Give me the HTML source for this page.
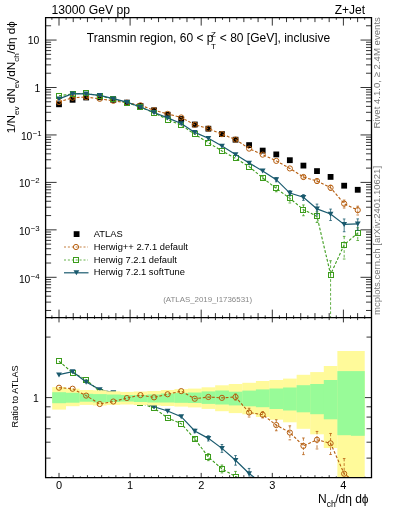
<!DOCTYPE html>
<html><head><meta charset="utf-8"><style>
html,body{margin:0;padding:0;background:#fff;width:393px;height:512px;overflow:hidden}
svg{position:absolute;left:0;top:0;display:block;will-change:transform}
text{font-family:"Liberation Sans",sans-serif}
</style></head><body>
<svg width="393" height="512" viewBox="0 0 393 512">
<defs><clipPath id="cm"><rect x="45.6" y="17.6" width="325.9" height="300"/></clipPath><clipPath id="cr"><rect x="45.6" y="317.6" width="325.9" height="160.1"/></clipPath></defs>
<path d="M45.6,310.47h5.5M371.5,310.47h-5.5M45.6,302.11h5.5M371.5,302.11h-5.5M45.6,296.18h5.5M371.5,296.18h-5.5M45.6,291.58h5.5M371.5,291.58h-5.5M45.6,287.83h5.5M371.5,287.83h-5.5M45.6,284.65h5.5M371.5,284.65h-5.5M45.6,281.9h5.5M371.5,281.9h-5.5M45.6,279.47h5.5M371.5,279.47h-5.5M45.6,277.3h11M371.5,277.3h-11M45.6,263.02h5.5M371.5,263.02h-5.5M45.6,254.66h5.5M371.5,254.66h-5.5M45.6,248.73h5.5M371.5,248.73h-5.5M45.6,244.13h5.5M371.5,244.13h-5.5M45.6,240.38h5.5M371.5,240.38h-5.5M45.6,237.2h5.5M371.5,237.2h-5.5M45.6,234.45h5.5M371.5,234.45h-5.5M45.6,232.02h5.5M371.5,232.02h-5.5M45.6,229.85h11M371.5,229.85h-11M45.6,215.57h5.5M371.5,215.57h-5.5M45.6,207.21h5.5M371.5,207.21h-5.5M45.6,201.28h5.5M371.5,201.28h-5.5M45.6,196.68h5.5M371.5,196.68h-5.5M45.6,192.93h5.5M371.5,192.93h-5.5M45.6,189.75h5.5M371.5,189.75h-5.5M45.6,187h5.5M371.5,187h-5.5M45.6,184.57h5.5M371.5,184.57h-5.5M45.6,182.4h11M371.5,182.4h-11M45.6,168.12h5.5M371.5,168.12h-5.5M45.6,159.76h5.5M371.5,159.76h-5.5M45.6,153.83h5.5M371.5,153.83h-5.5M45.6,149.23h5.5M371.5,149.23h-5.5M45.6,145.48h5.5M371.5,145.48h-5.5M45.6,142.3h5.5M371.5,142.3h-5.5M45.6,139.55h5.5M371.5,139.55h-5.5M45.6,137.12h5.5M371.5,137.12h-5.5M45.6,134.95h11M371.5,134.95h-11M45.6,120.67h5.5M371.5,120.67h-5.5M45.6,112.31h5.5M371.5,112.31h-5.5M45.6,106.38h5.5M371.5,106.38h-5.5M45.6,101.78h5.5M371.5,101.78h-5.5M45.6,98.03h5.5M371.5,98.03h-5.5M45.6,94.85h5.5M371.5,94.85h-5.5M45.6,92.1h5.5M371.5,92.1h-5.5M45.6,89.67h5.5M371.5,89.67h-5.5M45.6,87.5h11M371.5,87.5h-11M45.6,73.22h5.5M371.5,73.22h-5.5M45.6,64.86h5.5M371.5,64.86h-5.5M45.6,58.93h5.5M371.5,58.93h-5.5M45.6,54.33h5.5M371.5,54.33h-5.5M45.6,50.58h5.5M371.5,50.58h-5.5M45.6,47.4h5.5M371.5,47.4h-5.5M45.6,44.65h5.5M371.5,44.65h-5.5M45.6,42.22h5.5M371.5,42.22h-5.5M45.6,40.05h11M371.5,40.05h-11M45.6,25.77h5.5M371.5,25.77h-5.5M51.89,17.6v2.2M51.89,317.6v-2.2M51.89,317.6v1.3M51.89,477.7v-1.3M59,17.6v8M59,317.6v-8M59,317.6v4.8M59,477.7v-4.8M66.11,17.6v2.2M66.11,317.6v-2.2M66.11,317.6v1.3M66.11,477.7v-1.3M73.22,17.6v4.5M73.22,317.6v-4.5M73.22,317.6v2.5M73.22,477.7v-2.5M80.33,17.6v2.2M80.33,317.6v-2.2M80.33,317.6v1.3M80.33,477.7v-1.3M87.44,17.6v4.5M87.44,317.6v-4.5M87.44,317.6v2.5M87.44,477.7v-2.5M94.55,17.6v2.2M94.55,317.6v-2.2M94.55,317.6v1.3M94.55,477.7v-1.3M101.66,17.6v4.5M101.66,317.6v-4.5M101.66,317.6v2.5M101.66,477.7v-2.5M108.77,17.6v2.2M108.77,317.6v-2.2M108.77,317.6v1.3M108.77,477.7v-1.3M115.88,17.6v4.5M115.88,317.6v-4.5M115.88,317.6v2.5M115.88,477.7v-2.5M122.99,17.6v2.2M122.99,317.6v-2.2M122.99,317.6v1.3M122.99,477.7v-1.3M130.1,17.6v8M130.1,317.6v-8M130.1,317.6v4.8M130.1,477.7v-4.8M137.21,17.6v2.2M137.21,317.6v-2.2M137.21,317.6v1.3M137.21,477.7v-1.3M144.32,17.6v4.5M144.32,317.6v-4.5M144.32,317.6v2.5M144.32,477.7v-2.5M151.43,17.6v2.2M151.43,317.6v-2.2M151.43,317.6v1.3M151.43,477.7v-1.3M158.54,17.6v4.5M158.54,317.6v-4.5M158.54,317.6v2.5M158.54,477.7v-2.5M165.65,17.6v2.2M165.65,317.6v-2.2M165.65,317.6v1.3M165.65,477.7v-1.3M172.76,17.6v4.5M172.76,317.6v-4.5M172.76,317.6v2.5M172.76,477.7v-2.5M179.87,17.6v2.2M179.87,317.6v-2.2M179.87,317.6v1.3M179.87,477.7v-1.3M186.98,17.6v4.5M186.98,317.6v-4.5M186.98,317.6v2.5M186.98,477.7v-2.5M194.09,17.6v2.2M194.09,317.6v-2.2M194.09,317.6v1.3M194.09,477.7v-1.3M201.2,17.6v8M201.2,317.6v-8M201.2,317.6v4.8M201.2,477.7v-4.8M208.31,17.6v2.2M208.31,317.6v-2.2M208.31,317.6v1.3M208.31,477.7v-1.3M215.42,17.6v4.5M215.42,317.6v-4.5M215.42,317.6v2.5M215.42,477.7v-2.5M222.53,17.6v2.2M222.53,317.6v-2.2M222.53,317.6v1.3M222.53,477.7v-1.3M229.64,17.6v4.5M229.64,317.6v-4.5M229.64,317.6v2.5M229.64,477.7v-2.5M236.75,17.6v2.2M236.75,317.6v-2.2M236.75,317.6v1.3M236.75,477.7v-1.3M243.86,17.6v4.5M243.86,317.6v-4.5M243.86,317.6v2.5M243.86,477.7v-2.5M250.97,17.6v2.2M250.97,317.6v-2.2M250.97,317.6v1.3M250.97,477.7v-1.3M258.08,17.6v4.5M258.08,317.6v-4.5M258.08,317.6v2.5M258.08,477.7v-2.5M265.19,17.6v2.2M265.19,317.6v-2.2M265.19,317.6v1.3M265.19,477.7v-1.3M272.3,17.6v8M272.3,317.6v-8M272.3,317.6v4.8M272.3,477.7v-4.8M279.41,17.6v2.2M279.41,317.6v-2.2M279.41,317.6v1.3M279.41,477.7v-1.3M286.52,17.6v4.5M286.52,317.6v-4.5M286.52,317.6v2.5M286.52,477.7v-2.5M293.63,17.6v2.2M293.63,317.6v-2.2M293.63,317.6v1.3M293.63,477.7v-1.3M300.74,17.6v4.5M300.74,317.6v-4.5M300.74,317.6v2.5M300.74,477.7v-2.5M307.85,17.6v2.2M307.85,317.6v-2.2M307.85,317.6v1.3M307.85,477.7v-1.3M314.96,17.6v4.5M314.96,317.6v-4.5M314.96,317.6v2.5M314.96,477.7v-2.5M322.07,17.6v2.2M322.07,317.6v-2.2M322.07,317.6v1.3M322.07,477.7v-1.3M329.18,17.6v4.5M329.18,317.6v-4.5M329.18,317.6v2.5M329.18,477.7v-2.5M336.29,17.6v2.2M336.29,317.6v-2.2M336.29,317.6v1.3M336.29,477.7v-1.3M343.4,17.6v8M343.4,317.6v-8M343.4,317.6v4.8M343.4,477.7v-4.8M350.51,17.6v2.2M350.51,317.6v-2.2M350.51,317.6v1.3M350.51,477.7v-1.3M357.62,17.6v4.5M357.62,317.6v-4.5M357.62,317.6v2.5M357.62,477.7v-2.5M364.73,17.6v2.2M364.73,317.6v-2.2M364.73,317.6v1.3M364.73,477.7v-1.3M45.6,337.09h5M371.5,337.09h-5M45.6,397.6h11M371.5,397.6h-11M45.6,406.8h5M371.5,406.8h-5M45.6,417.08h5M371.5,417.08h-5M45.6,428.74h5M371.5,428.74h-5M45.6,442.19h5M371.5,442.19h-5M45.6,458.11h5M371.5,458.11h-5" stroke="#000" stroke-width="0.8" fill="none"/>
<g clip-path="url(#cr)"><polyline points="59,361.22 72.58,372.77 86.16,379.53 99.74,391.69 113.32,394.18 126.9,397.6 140.47,403 154.05,408.07 167.63,417.96 181.21,423.65 194.79,438.91 208.37,457.07 221.95,468.87 235.53,476.5 249.11,488.74 262.69,513.53 276.27,541.66 289.84,559.22 303.42,584.15 317,589.49 330.58,811.06 344.16,647.67 357.74,581.24" fill="none" stroke="#3c9c1c" stroke-width="1.1" stroke-dasharray="2.8,1.8"/><path d="M194.79,437.18V440.67M193.49,437.18H196.09M193.49,440.67H196.09M208.37,453.64V460.63M207.07,453.64H209.67M207.07,460.63H209.67M221.95,465.03V472.89M220.65,465.03H223.25M220.65,472.89H223.25M235.53,471.42V481.9M234.23,471.42H236.83M234.23,481.9H236.83" stroke="#3c9c1c" stroke-width="0.8" fill="none" stroke-dasharray="2.8,1.8"/><rect x="56.5" y="358.5" width="5" height="5" fill="none" stroke="#3c9c1c" stroke-width="1"/><rect x="70.5" y="370.5" width="5" height="5" fill="none" stroke="#3c9c1c" stroke-width="1"/><rect x="83.5" y="377.5" width="5" height="5" fill="none" stroke="#3c9c1c" stroke-width="1"/><rect x="97.5" y="389.5" width="5" height="5" fill="none" stroke="#3c9c1c" stroke-width="1"/><rect x="110.5" y="391.5" width="5" height="5" fill="none" stroke="#3c9c1c" stroke-width="1"/><rect x="124.5" y="395.5" width="5" height="5" fill="none" stroke="#3c9c1c" stroke-width="1"/><rect x="137.5" y="400.5" width="5" height="5" fill="none" stroke="#3c9c1c" stroke-width="1"/><rect x="151.5" y="405.5" width="5" height="5" fill="none" stroke="#3c9c1c" stroke-width="1"/><rect x="165.5" y="415.5" width="5" height="5" fill="none" stroke="#3c9c1c" stroke-width="1"/><rect x="178.5" y="421.5" width="5" height="5" fill="none" stroke="#3c9c1c" stroke-width="1"/><rect x="192.5" y="436.5" width="5" height="5" fill="none" stroke="#3c9c1c" stroke-width="1"/><rect x="205.5" y="454.5" width="5" height="5" fill="none" stroke="#3c9c1c" stroke-width="1"/><rect x="219.5" y="466.5" width="5" height="5" fill="none" stroke="#3c9c1c" stroke-width="1"/><rect x="233.5" y="474.5" width="5" height="5" fill="none" stroke="#3c9c1c" stroke-width="1"/><rect x="246.5" y="486.5" width="5" height="5" fill="none" stroke="#3c9c1c" stroke-width="1"/><rect x="260.5" y="511.5" width="5" height="5" fill="none" stroke="#3c9c1c" stroke-width="1"/><rect x="273.5" y="539.5" width="5" height="5" fill="none" stroke="#3c9c1c" stroke-width="1"/><rect x="287.5" y="556.5" width="5" height="5" fill="none" stroke="#3c9c1c" stroke-width="1"/><rect x="300.5" y="581.5" width="5" height="5" fill="none" stroke="#3c9c1c" stroke-width="1"/><rect x="314.5" y="586.5" width="5" height="5" fill="none" stroke="#3c9c1c" stroke-width="1"/><rect x="328.5" y="808.5" width="5" height="5" fill="none" stroke="#3c9c1c" stroke-width="1"/><rect x="341.5" y="645.5" width="5" height="5" fill="none" stroke="#3c9c1c" stroke-width="1"/><rect x="355.5" y="578.5" width="5" height="5" fill="none" stroke="#3c9c1c" stroke-width="1"/></g>
<g clip-path="url(#cr)"><polyline points="59,374.7 72.58,371.66 86.16,381.98 99.74,389.52 113.32,392.51 126.9,395.87 140.47,402.08 154.05,406.7 167.63,410.97 181.21,416.64 194.79,431.01 208.37,438.35 221.95,448.37 235.53,460.23 249.11,473.53 262.69,483.69 276.27,504.46 289.84,536.79 303.42,531.78 317,557.57 330.58,554.89 344.16,561.48 357.74,541.66" fill="none" stroke="#1a5a6e" stroke-width="1.2"/><path d="M194.79,429.28V432.77M193.49,429.28H196.09M193.49,432.77H196.09M208.37,435.77V441.01M207.07,435.77H209.67M207.07,441.01H209.67M221.95,444.53V452.39M220.65,444.53H223.25M220.65,452.39H223.25M235.53,455.55V465.17M234.23,455.55H236.83M234.23,465.17H236.83M249.11,468.45V478.94M247.81,468.45H250.41M247.81,478.94H250.41" stroke="#1a5a6e" stroke-width="0.8" fill="none"/><path d="M56.1,372.4H61.9L59,377.4Z" fill="#1a5a6e"/><path d="M69.68,369.36H75.48L72.58,374.36Z" fill="#1a5a6e"/><path d="M83.26,379.68H89.06L86.16,384.68Z" fill="#1a5a6e"/><path d="M96.84,387.22H102.64L99.74,392.22Z" fill="#1a5a6e"/><path d="M110.42,390.21H116.22L113.32,395.21Z" fill="#1a5a6e"/><path d="M124,393.57H129.8L126.9,398.57Z" fill="#1a5a6e"/><path d="M137.57,399.78H143.37L140.47,404.78Z" fill="#1a5a6e"/><path d="M151.15,404.4H156.95L154.05,409.4Z" fill="#1a5a6e"/><path d="M164.73,408.67H170.53L167.63,413.67Z" fill="#1a5a6e"/><path d="M178.31,414.34H184.11L181.21,419.34Z" fill="#1a5a6e"/><path d="M191.89,428.71H197.69L194.79,433.71Z" fill="#1a5a6e"/><path d="M205.47,436.05H211.27L208.37,441.05Z" fill="#1a5a6e"/><path d="M219.05,446.07H224.85L221.95,451.07Z" fill="#1a5a6e"/><path d="M232.63,457.93H238.43L235.53,462.93Z" fill="#1a5a6e"/><path d="M246.21,471.23H252.01L249.11,476.23Z" fill="#1a5a6e"/><path d="M259.79,481.39H265.59L262.69,486.39Z" fill="#1a5a6e"/><path d="M273.37,502.16H279.17L276.27,507.16Z" fill="#1a5a6e"/><path d="M286.94,534.49H292.74L289.84,539.49Z" fill="#1a5a6e"/><path d="M300.52,529.48H306.32L303.42,534.48Z" fill="#1a5a6e"/><path d="M314.1,555.27H319.9L317,560.27Z" fill="#1a5a6e"/><path d="M327.68,552.59H333.48L330.58,557.59Z" fill="#1a5a6e"/><path d="M341.26,559.18H347.06L344.16,564.18Z" fill="#1a5a6e"/><path d="M354.84,539.36H360.64L357.74,544.36Z" fill="#1a5a6e"/></g>
<g clip-path="url(#cr)"><g fill="#fffa9a"><rect x="52.21" y="387.1" width="13.78" height="22.5"/><rect x="65.79" y="388.7" width="13.78" height="17.5"/><rect x="79.37" y="390" width="13.78" height="14.9"/><rect x="92.95" y="390.3" width="13.78" height="15.2"/><rect x="106.53" y="391.3" width="13.78" height="13.6"/><rect x="120.11" y="391.9" width="13.78" height="12.6"/><rect x="133.68" y="391.5" width="13.78" height="13.5"/><rect x="147.26" y="391" width="13.78" height="14.5"/><rect x="160.84" y="390" width="13.78" height="16"/><rect x="174.42" y="389.1" width="13.78" height="17.5"/><rect x="188" y="388.6" width="13.78" height="18.8"/><rect x="201.58" y="387.3" width="13.78" height="21.6"/><rect x="215.16" y="385.3" width="13.78" height="25.9"/><rect x="228.74" y="384" width="13.78" height="29.1"/><rect x="242.32" y="382.8" width="13.78" height="31.5"/><rect x="255.9" y="381" width="13.78" height="36"/><rect x="269.48" y="380" width="13.78" height="39.7"/><rect x="283.05" y="378.6" width="13.78" height="43.7"/><rect x="296.63" y="374.8" width="13.78" height="54"/><rect x="310.21" y="372.1" width="13.78" height="62.2"/><rect x="323.79" y="366" width="13.78" height="82"/><rect x="337.37" y="351" width="13.78" height="126.7"/><rect x="350.95" y="351" width="13.78" height="126.7"/></g><g fill="#98fb98"><rect x="52.21" y="392.2" width="13.78" height="11"/><rect x="65.79" y="392.8" width="13.78" height="9.9"/><rect x="79.37" y="393.8" width="13.78" height="7.9"/><rect x="92.95" y="394.1" width="13.78" height="8.3"/><rect x="106.53" y="394.5" width="13.78" height="7.5"/><rect x="120.11" y="395" width="13.78" height="6.5"/><rect x="133.68" y="395" width="13.78" height="7"/><rect x="147.26" y="394.5" width="13.78" height="8"/><rect x="160.84" y="393.5" width="13.78" height="9"/><rect x="174.42" y="392.9" width="13.78" height="9.9"/><rect x="188" y="392.5" width="13.78" height="10.5"/><rect x="201.58" y="391.4" width="13.78" height="12.5"/><rect x="215.16" y="390.5" width="13.78" height="14"/><rect x="228.74" y="391.7" width="13.78" height="13.7"/><rect x="242.32" y="390.6" width="13.78" height="15.7"/><rect x="255.9" y="389.4" width="13.78" height="17.8"/><rect x="269.48" y="388.5" width="13.78" height="20.5"/><rect x="283.05" y="387.5" width="13.78" height="23"/><rect x="296.63" y="385.2" width="13.78" height="27.1"/><rect x="310.21" y="384" width="13.78" height="30.2"/><rect x="323.79" y="380" width="13.78" height="39.3"/><rect x="337.37" y="371.1" width="13.78" height="64.1"/><rect x="350.95" y="371.1" width="13.78" height="64.7"/></g></g>
<g clip-path="url(#cr)"><polyline points="59,387.71 72.58,388.73 86.16,395.61 99.74,404.03 113.32,401.53 126.9,398.04 140.47,395.1 154.05,397.34 167.63,394.26 181.21,391.12 194.79,398.74 208.37,396.99 221.95,397.86 235.53,396.99 249.11,412.51 262.69,414.71 276.27,425.07 289.84,432.56 303.42,445.91 317,439.75 330.58,443.36 344.16,473.74 357.74,483.69" fill="none" stroke="#b55d0e" stroke-width="1.1" stroke-dasharray="2.8,1.8"/><path d="M235.53,393.99V400.1M234.23,393.99H236.83M234.23,400.1H236.83M249.11,408.25V416.99M247.81,408.25H250.41M247.81,416.99H250.41M262.69,411.62V417.91M261.39,411.62H263.99M261.39,417.91H263.99M276.27,419.74V430.75M274.97,419.74H277.57M274.97,430.75H277.57M289.84,425.84V439.84M288.54,425.84H291.14M288.54,439.84H291.14M303.42,437.98V454.62M302.12,437.98H304.72M302.12,454.62H304.72M317,431.43V448.95M315.7,431.43H318.3M315.7,448.95H318.3M330.58,433.47V454.52M329.28,433.47H331.88M329.28,454.52H331.88M344.16,458.56V492.14M342.86,458.56H345.46M342.86,492.14H345.46" stroke="#b55d0e" stroke-width="0.8" fill="none" stroke-dasharray="2.8,1.8"/><circle cx="59" cy="387.71" r="2.6" fill="none" stroke="#b55d0e" stroke-width="1"/><circle cx="72.58" cy="388.73" r="2.6" fill="none" stroke="#b55d0e" stroke-width="1"/><circle cx="86.16" cy="395.61" r="2.6" fill="none" stroke="#b55d0e" stroke-width="1"/><circle cx="99.74" cy="404.03" r="2.6" fill="none" stroke="#b55d0e" stroke-width="1"/><circle cx="113.32" cy="401.53" r="2.6" fill="none" stroke="#b55d0e" stroke-width="1"/><circle cx="126.9" cy="398.04" r="2.6" fill="none" stroke="#b55d0e" stroke-width="1"/><circle cx="140.47" cy="395.1" r="2.6" fill="none" stroke="#b55d0e" stroke-width="1"/><circle cx="154.05" cy="397.34" r="2.6" fill="none" stroke="#b55d0e" stroke-width="1"/><circle cx="167.63" cy="394.26" r="2.6" fill="none" stroke="#b55d0e" stroke-width="1"/><circle cx="181.21" cy="391.12" r="2.6" fill="none" stroke="#b55d0e" stroke-width="1"/><circle cx="194.79" cy="398.74" r="2.6" fill="none" stroke="#b55d0e" stroke-width="1"/><circle cx="208.37" cy="396.99" r="2.6" fill="none" stroke="#b55d0e" stroke-width="1"/><circle cx="221.95" cy="397.86" r="2.6" fill="none" stroke="#b55d0e" stroke-width="1"/><circle cx="235.53" cy="396.99" r="2.6" fill="none" stroke="#b55d0e" stroke-width="1"/><circle cx="249.11" cy="412.51" r="2.6" fill="none" stroke="#b55d0e" stroke-width="1"/><circle cx="262.69" cy="414.71" r="2.6" fill="none" stroke="#b55d0e" stroke-width="1"/><circle cx="276.27" cy="425.07" r="2.6" fill="none" stroke="#b55d0e" stroke-width="1"/><circle cx="289.84" cy="432.56" r="2.6" fill="none" stroke="#b55d0e" stroke-width="1"/><circle cx="303.42" cy="445.91" r="2.6" fill="none" stroke="#b55d0e" stroke-width="1"/><circle cx="317" cy="439.75" r="2.6" fill="none" stroke="#b55d0e" stroke-width="1"/><circle cx="330.58" cy="443.36" r="2.6" fill="none" stroke="#b55d0e" stroke-width="1"/><circle cx="344.16" cy="473.74" r="2.6" fill="none" stroke="#b55d0e" stroke-width="1"/><circle cx="357.74" cy="483.69" r="2.6" fill="none" stroke="#b55d0e" stroke-width="1"/></g>
<g clip-path="url(#cm)"><rect x="56.1" y="101.4" width="5.8" height="5.8" fill="#000"/><rect x="69.68" y="96.9" width="5.8" height="5.8" fill="#000"/><rect x="83.26" y="94.6" width="5.8" height="5.8" fill="#000"/><rect x="96.84" y="94.4" width="5.8" height="5.8" fill="#000"/><rect x="110.42" y="97" width="5.8" height="5.8" fill="#000"/><rect x="124" y="99.7" width="5.8" height="5.8" fill="#000"/><rect x="137.57" y="103" width="5.8" height="5.8" fill="#000"/><rect x="151.15" y="107.4" width="5.8" height="5.8" fill="#000"/><rect x="164.73" y="111.8" width="5.8" height="5.8" fill="#000"/><rect x="178.31" y="116.1" width="5.8" height="5.8" fill="#000"/><rect x="191.89" y="121.6" width="5.8" height="5.8" fill="#000"/><rect x="205.47" y="125.8" width="5.8" height="5.8" fill="#000"/><rect x="219.05" y="131.2" width="5.8" height="5.8" fill="#000"/><rect x="232.63" y="136.8" width="5.8" height="5.8" fill="#000"/><rect x="246.21" y="142.2" width="5.8" height="5.8" fill="#000"/><rect x="259.79" y="147.7" width="5.8" height="5.8" fill="#000"/><rect x="273.37" y="151.5" width="5.8" height="5.8" fill="#000"/><rect x="286.94" y="157.3" width="5.8" height="5.8" fill="#000"/><rect x="300.52" y="162.7" width="5.8" height="5.8" fill="#000"/><rect x="314.1" y="168.2" width="5.8" height="5.8" fill="#000"/><rect x="327.68" y="174" width="5.8" height="5.8" fill="#000"/><rect x="341.26" y="182.8" width="5.8" height="5.8" fill="#000"/><rect x="354.84" y="186.9" width="5.8" height="5.8" fill="#000"/></g>
<g clip-path="url(#cm)"><polyline points="59,101.96 72.58,97.71 86.16,97.03 99.74,98.82 113.32,100.83 126.9,102.7 140.47,105.31 154.05,110.24 167.63,113.91 181.21,117.47 194.79,124.77 208.37,128.56 221.95,134.16 235.53,139.56 249.11,148.62 262.69,154.64 276.27,160.89 289.84,168.45 303.42,177 317,181.05 330.58,187.7 344.16,203.68 357.74,210.12" fill="none" stroke="#b55d0e" stroke-width="1.1" stroke-dasharray="2.8,1.8"/><path d="M303.42,175.13V179.06M302.12,175.13H304.72M302.12,179.06H304.72M317,179.09V183.22M315.7,179.09H318.3M315.7,183.22H318.3M330.58,185.37V190.34M329.28,185.37H331.88M329.28,190.34H331.88M344.16,200.09V208.02M342.86,200.09H345.46M342.86,208.02H345.46M357.74,206.19V214.98M356.44,206.19H359.04M356.44,214.98H359.04" stroke="#b55d0e" stroke-width="0.8" fill="none" stroke-dasharray="2.8,1.8"/><circle cx="59" cy="101.96" r="2.6" fill="none" stroke="#b55d0e" stroke-width="1"/><circle cx="72.58" cy="97.71" r="2.6" fill="none" stroke="#b55d0e" stroke-width="1"/><circle cx="86.16" cy="97.03" r="2.6" fill="none" stroke="#b55d0e" stroke-width="1"/><circle cx="99.74" cy="98.82" r="2.6" fill="none" stroke="#b55d0e" stroke-width="1"/><circle cx="113.32" cy="100.83" r="2.6" fill="none" stroke="#b55d0e" stroke-width="1"/><circle cx="126.9" cy="102.7" r="2.6" fill="none" stroke="#b55d0e" stroke-width="1"/><circle cx="140.47" cy="105.31" r="2.6" fill="none" stroke="#b55d0e" stroke-width="1"/><circle cx="154.05" cy="110.24" r="2.6" fill="none" stroke="#b55d0e" stroke-width="1"/><circle cx="167.63" cy="113.91" r="2.6" fill="none" stroke="#b55d0e" stroke-width="1"/><circle cx="181.21" cy="117.47" r="2.6" fill="none" stroke="#b55d0e" stroke-width="1"/><circle cx="194.79" cy="124.77" r="2.6" fill="none" stroke="#b55d0e" stroke-width="1"/><circle cx="208.37" cy="128.56" r="2.6" fill="none" stroke="#b55d0e" stroke-width="1"/><circle cx="221.95" cy="134.16" r="2.6" fill="none" stroke="#b55d0e" stroke-width="1"/><circle cx="235.53" cy="139.56" r="2.6" fill="none" stroke="#b55d0e" stroke-width="1"/><circle cx="249.11" cy="148.62" r="2.6" fill="none" stroke="#b55d0e" stroke-width="1"/><circle cx="262.69" cy="154.64" r="2.6" fill="none" stroke="#b55d0e" stroke-width="1"/><circle cx="276.27" cy="160.89" r="2.6" fill="none" stroke="#b55d0e" stroke-width="1"/><circle cx="289.84" cy="168.45" r="2.6" fill="none" stroke="#b55d0e" stroke-width="1"/><circle cx="303.42" cy="177" r="2.6" fill="none" stroke="#b55d0e" stroke-width="1"/><circle cx="317" cy="181.05" r="2.6" fill="none" stroke="#b55d0e" stroke-width="1"/><circle cx="330.58" cy="187.7" r="2.6" fill="none" stroke="#b55d0e" stroke-width="1"/><circle cx="344.16" cy="203.68" r="2.6" fill="none" stroke="#b55d0e" stroke-width="1"/><circle cx="357.74" cy="210.12" r="2.6" fill="none" stroke="#b55d0e" stroke-width="1"/></g>
<g clip-path="url(#cm)"><polyline points="59,95.71 72.58,93.94 86.16,93.23 99.74,95.91 113.32,99.09 126.9,102.6 140.47,107.18 154.05,112.77 167.63,119.51 181.21,125.15 194.79,134.25 208.37,142.74 221.95,150.92 235.53,158.33 249.11,166.62 262.69,177.97 276.27,188.41 289.84,198.35 303.42,209.64 317,216.4 330.58,274.5 344.16,244.73 357.74,233.15" fill="none" stroke="#3c9c1c" stroke-width="1.1" stroke-dasharray="2.8,1.8"/><path d="M262.69,176V180.14M261.39,176H263.99M261.39,180.14H263.99M276.27,185.53V191.76M274.97,185.53H277.57M274.97,191.76H277.57M289.84,194.6V202.95M288.54,194.6H291.14M288.54,202.95H291.14M303.42,204.94V215.73M302.12,204.94H304.72M302.12,215.73H304.72M317,211.7V222.49M315.7,211.7H318.3M315.7,222.49H318.3M330.58,260.74V336.24M329.28,260.74H331.88M329.28,336.24H331.88M344.16,236.38V259.02M342.86,236.38H345.46M342.86,259.02H345.46M357.74,227.75V240.5M356.44,227.75H359.04M356.44,240.5H359.04" stroke="#3c9c1c" stroke-width="0.8" fill="none" stroke-dasharray="2.8,1.8"/><rect x="56.5" y="93.5" width="5" height="5" fill="none" stroke="#3c9c1c" stroke-width="1"/><rect x="70.5" y="91.5" width="5" height="5" fill="none" stroke="#3c9c1c" stroke-width="1"/><rect x="83.5" y="90.5" width="5" height="5" fill="none" stroke="#3c9c1c" stroke-width="1"/><rect x="97.5" y="93.5" width="5" height="5" fill="none" stroke="#3c9c1c" stroke-width="1"/><rect x="110.5" y="96.5" width="5" height="5" fill="none" stroke="#3c9c1c" stroke-width="1"/><rect x="124.5" y="100.5" width="5" height="5" fill="none" stroke="#3c9c1c" stroke-width="1"/><rect x="137.5" y="104.5" width="5" height="5" fill="none" stroke="#3c9c1c" stroke-width="1"/><rect x="151.5" y="110.5" width="5" height="5" fill="none" stroke="#3c9c1c" stroke-width="1"/><rect x="165.5" y="117.5" width="5" height="5" fill="none" stroke="#3c9c1c" stroke-width="1"/><rect x="178.5" y="122.5" width="5" height="5" fill="none" stroke="#3c9c1c" stroke-width="1"/><rect x="192.5" y="131.5" width="5" height="5" fill="none" stroke="#3c9c1c" stroke-width="1"/><rect x="205.5" y="140.5" width="5" height="5" fill="none" stroke="#3c9c1c" stroke-width="1"/><rect x="219.5" y="148.5" width="5" height="5" fill="none" stroke="#3c9c1c" stroke-width="1"/><rect x="233.5" y="155.5" width="5" height="5" fill="none" stroke="#3c9c1c" stroke-width="1"/><rect x="246.5" y="164.5" width="5" height="5" fill="none" stroke="#3c9c1c" stroke-width="1"/><rect x="260.5" y="175.5" width="5" height="5" fill="none" stroke="#3c9c1c" stroke-width="1"/><rect x="273.5" y="185.5" width="5" height="5" fill="none" stroke="#3c9c1c" stroke-width="1"/><rect x="287.5" y="195.5" width="5" height="5" fill="none" stroke="#3c9c1c" stroke-width="1"/><rect x="300.5" y="207.5" width="5" height="5" fill="none" stroke="#3c9c1c" stroke-width="1"/><rect x="314.5" y="213.5" width="5" height="5" fill="none" stroke="#3c9c1c" stroke-width="1"/><rect x="328.5" y="272.5" width="5" height="5" fill="none" stroke="#3c9c1c" stroke-width="1"/><rect x="341.5" y="242.5" width="5" height="5" fill="none" stroke="#3c9c1c" stroke-width="1"/><rect x="355.5" y="230.5" width="5" height="5" fill="none" stroke="#3c9c1c" stroke-width="1"/></g>
<g clip-path="url(#cm)"><polyline points="59,98.89 72.58,93.68 86.16,93.81 99.74,95.39 113.32,98.7 126.9,102.19 140.47,106.96 154.05,112.45 167.63,117.86 181.21,123.5 194.79,132.39 208.37,138.32 221.95,146.09 235.53,154.48 249.11,163.03 262.69,170.92 276.27,179.63 289.84,193.06 303.42,197.28 317,208.86 330.58,214.03 344.16,224.39 357.74,223.81" fill="none" stroke="#1a5a6e" stroke-width="1.2"/><path d="M276.27,177.66V181.8M274.97,177.66H277.57M274.97,181.8H277.57M289.84,190.72V195.69M288.54,190.72H291.14M288.54,195.69H291.14M303.42,194.58V200.38M302.12,194.58H304.72M302.12,200.38H304.72M317,204.1V215.07M315.7,204.1H318.3M315.7,215.07H318.3M330.58,209.1V220.52M329.28,209.1H331.88M329.28,220.52H331.88M344.16,218.98V231.74M342.86,218.98H345.46M342.86,231.74H345.46M357.74,218.88V230.29M356.44,218.88H359.04M356.44,230.29H359.04" stroke="#1a5a6e" stroke-width="0.8" fill="none"/><path d="M56.1,96.59H61.9L59,101.59Z" fill="#1a5a6e"/><path d="M69.68,91.38H75.48L72.58,96.38Z" fill="#1a5a6e"/><path d="M83.26,91.51H89.06L86.16,96.51Z" fill="#1a5a6e"/><path d="M96.84,93.09H102.64L99.74,98.09Z" fill="#1a5a6e"/><path d="M110.42,96.4H116.22L113.32,101.4Z" fill="#1a5a6e"/><path d="M124,99.89H129.8L126.9,104.89Z" fill="#1a5a6e"/><path d="M137.57,104.66H143.37L140.47,109.66Z" fill="#1a5a6e"/><path d="M151.15,110.15H156.95L154.05,115.15Z" fill="#1a5a6e"/><path d="M164.73,115.56H170.53L167.63,120.56Z" fill="#1a5a6e"/><path d="M178.31,121.2H184.11L181.21,126.2Z" fill="#1a5a6e"/><path d="M191.89,130.09H197.69L194.79,135.09Z" fill="#1a5a6e"/><path d="M205.47,136.02H211.27L208.37,141.02Z" fill="#1a5a6e"/><path d="M219.05,143.79H224.85L221.95,148.79Z" fill="#1a5a6e"/><path d="M232.63,152.18H238.43L235.53,157.18Z" fill="#1a5a6e"/><path d="M246.21,160.73H252.01L249.11,165.73Z" fill="#1a5a6e"/><path d="M259.79,168.62H265.59L262.69,173.62Z" fill="#1a5a6e"/><path d="M273.37,177.33H279.17L276.27,182.33Z" fill="#1a5a6e"/><path d="M286.94,190.76H292.74L289.84,195.76Z" fill="#1a5a6e"/><path d="M300.52,194.98H306.32L303.42,199.98Z" fill="#1a5a6e"/><path d="M314.1,206.56H319.9L317,211.56Z" fill="#1a5a6e"/><path d="M327.68,211.73H333.48L330.58,216.73Z" fill="#1a5a6e"/><path d="M341.26,222.09H347.06L344.16,227.09Z" fill="#1a5a6e"/><path d="M354.84,221.51H360.64L357.74,226.51Z" fill="#1a5a6e"/></g>
<path d="M45.6,17.6H371.5V477.7H45.6ZM45.6,317.6H371.5" stroke="#000" stroke-width="1.3" fill="none"/>
<rect x="73.7" y="231.2" width="5.8" height="5.8" fill="#000"/>
<path d="M64,247.0H88" stroke="#b55d0e" stroke-width="0.8" stroke-dasharray="2,1.9" fill="none"/><circle cx="76" cy="247" r="2.6" fill="none" stroke="#b55d0e" stroke-width="1"/>
<path d="M64,260.0H88" stroke="#3c9c1c" stroke-width="0.8" stroke-dasharray="2,1.9" fill="none"/><rect x="73.5" y="257.5" width="5" height="5" fill="none" stroke="#3c9c1c" stroke-width="1"/>
<path d="M64,272.8H88.5" stroke="#1a5a6e" stroke-width="1.2" fill="none"/><path d="M73.5,270.3H79.3L76.4,275.3Z" fill="#1a5a6e"/>
<g font-family="Liberation Sans, sans-serif"><text x="51.4" y="13.7" font-size="12.2">13000 GeV pp</text><text x="365" y="13.7" font-size="12" text-anchor="end">Z+Jet</text><text x="86.8" y="41.9" font-size="12">Transmin region, 60 &lt;</text><text x="206.7" y="41.9" font-size="12">p</text><text x="211.1" y="37.2" font-size="8">Z</text><text x="211.1" y="49.1" font-size="8">T</text><text x="219.8" y="41.9" font-size="12">&lt; 80 [GeV], inclusive</text><text x="93.8" y="236.6" font-size="9.35">ATLAS</text><text x="93.8" y="249.7" font-size="9.35">Herwig++ 2.7.1 default</text><text x="93.8" y="262.6" font-size="9.35">Herwig 7.2.1 default</text><text x="93.8" y="274.9" font-size="9.35">Herwig 7.2.1 softTune</text><text x="207.6" y="302" font-size="7.9" fill="#888" text-anchor="middle">(ATLAS_2019_I1736531)</text><text x="27.8" y="43.7" font-size="10.4">10</text><text x="34.6" y="91.7" font-size="10.4">1</text><text x="20.9" y="139.7" font-size="10.3">10<tspan dx="0.3" dy="-3.9" font-size="7.8">−1</tspan></text><text x="18.9" y="187.1" font-size="10.3">10<tspan dx="0.3" dy="-3.9" font-size="7.8">−2</tspan></text><text x="18.9" y="235.3" font-size="10.3">10<tspan dx="0.3" dy="-3.9" font-size="7.8">−3</tspan></text><text x="18.9" y="282.7" font-size="10.3">10<tspan dx="0.3" dy="-3.9" font-size="7.8">−4</tspan></text><text x="33.1" y="401.8" font-size="10.4">1</text><text x="59" y="488.6" font-size="11" text-anchor="middle">0</text><text x="130.1" y="488.6" font-size="11" text-anchor="middle">1</text><text x="201.2" y="488.6" font-size="11" text-anchor="middle">2</text><text x="272.3" y="488.6" font-size="11" text-anchor="middle">3</text><text x="343.4" y="488.6" font-size="11" text-anchor="middle">4</text><text x="368.6" y="503.2" font-size="12" text-anchor="end">N<tspan dy="3.8" font-size="8.5">ch</tspan><tspan dx="-0.6" dy="-3.8">/dη dϕ</tspan></text><text transform="translate(14.9,133.2) rotate(-90)" font-size="11.75">1/N<tspan dy="3.9" font-size="8">ev</tspan><tspan dy="-3.9"> dN</tspan><tspan dy="3.9" font-size="8">ev</tspan><tspan dx="-0.4" dy="-3.9">/dN</tspan><tspan dy="3.9" font-size="8">ch</tspan><tspan dx="-0.4" dy="-3.9">/dη dϕ</tspan></text><text transform="translate(17.7,396.4) rotate(-90)" font-size="9.2" text-anchor="middle">Ratio to ATLAS</text><text transform="translate(379.9,128.5) rotate(-90)" font-size="9.6" fill="#777">Rivet 4.1.0, ≥ 2.4M events</text><text transform="translate(379.9,314.9) rotate(-90)" font-size="9.5" fill="#777">mcplots.cern.ch [arXiv:2401.10621]</text></g>
</svg>
</body></html>
